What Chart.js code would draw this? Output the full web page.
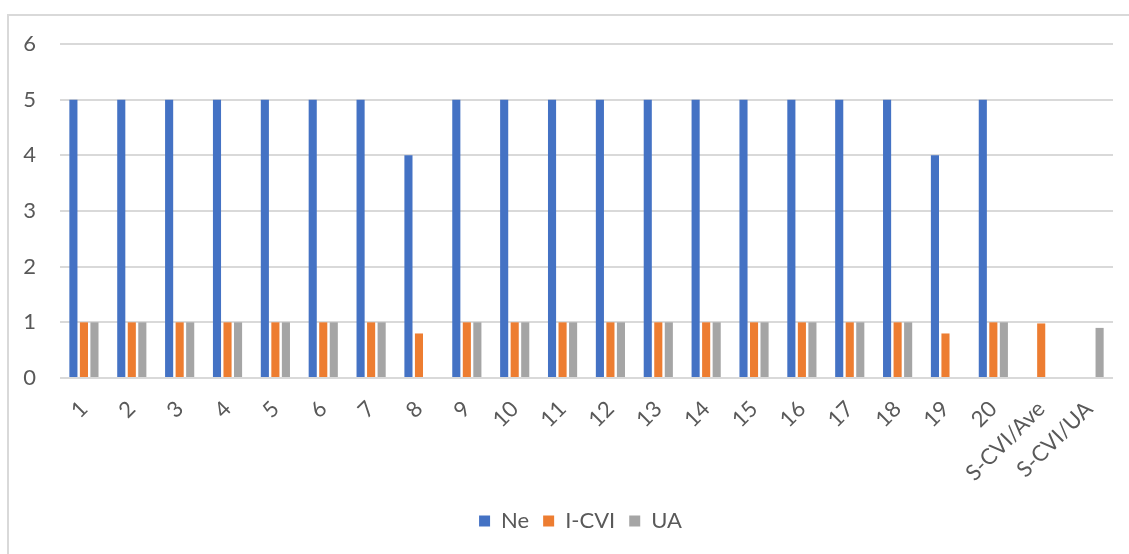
<!DOCTYPE html>
<html>
<head>
<meta charset="utf-8">
<script src="https://cdn.jsdelivr.net/npm/chart.js@4/dist/chart.umd.min.js"></script>
<style>
  html, body { margin: 0; padding: 0; background: #fff; overflow: hidden; }
  #wrap { position: relative; width: 1129px; height: 554px; }
  #frame {
    position: absolute; left: 7px; top: 14px; width: 1200px; height: 600px;
    border: 2px solid #d9d9d9; pointer-events: none;
  }
</style>
</head>
<body>
<div id="wrap">
  <canvas id="bar-chart" width="1129" height="554"></canvas>
  <div id="frame"></div>
</div>
<script>
const labels = ["1","2","3","4","5","6","7","8","9","10","11","12","13","14","15","16","17","18","19","20","S-CVI/Ave","S-CVI/UA"];
const ne   = [5,5,5,5,5,5,5,4,5,5,5,5,5,5,5,5,5,5,4,5,null,null];
const icvi = [1,1,1,1,1,1,1,0.8,1,1,1,1,1,1,1,1,1,1,0.8,1,0.98,null];
const ua   = [1,1,1,1,1,1,1,0,1,1,1,1,1,1,1,1,1,1,0,1,null,0.9];
const yTicks = [0,1,2,3,4,5,6];

const txt = "#595959";
const fontFamily = "Lato, 'Liberation Sans', sans-serif";

// nudge the legend so it sits centred under the whole framed area
const legendShift = {
  id: 'legendShift',
  afterLayout(chart) {
    const l = chart.legend;
    l.left += 24;
    l.right += 24;
  }
};

new Chart(document.getElementById("bar-chart"), {
  type: 'bar',
  data: {
    labels: labels,
    datasets: [
      { label: "Ne",    backgroundColor: "#4472c4", data: ne },
      { label: "I-CVI", backgroundColor: "#ed7d31", data: icvi },
      { label: "UA",    backgroundColor: "#a5a5a5", data: ua }
    ]
  },
  plugins: [legendShift],
  options: {
    responsive: false,
    animation: false,
    layout: { padding: { top: 44, right: 16, bottom: 12, left: 0 } },
    datasets: { bar: { categoryPercentage: 0.66, barPercentage: 0.77 } },
    scales: {
      x: {
        grid: { display: false, drawTicks: false },
        border: { display: false },
        ticks: {
          color: txt, font: { family: fontFamily, size: 22 },
          minRotation: 45, maxRotation: 45, padding: 18, autoSkip: false
        },
        afterFit: s => { s.height = 118; }
      },
      y: {
        min: 0, max: 6,
        afterBuildTicks: s => { s.ticks = yTicks.map(v => ({ value: v })); },
        grid: { color: "#d9d9d9", lineWidth: 2, drawTicks: false },
        border: { display: false },
        ticks: { color: txt, font: { family: fontFamily, size: 22 }, padding: 24 },
        afterFit: s => { s.width = 60; }
      }
    },
    plugins: {
      legend: {
        display: true, position: 'bottom',
        labels: {
          color: txt, font: { family: fontFamily, size: 22 },
          boxWidth: 11, boxHeight: 11, padding: 14
        }
      },
      tooltip: { enabled: false }
    }
  }
});
</script>
</body>
</html>
